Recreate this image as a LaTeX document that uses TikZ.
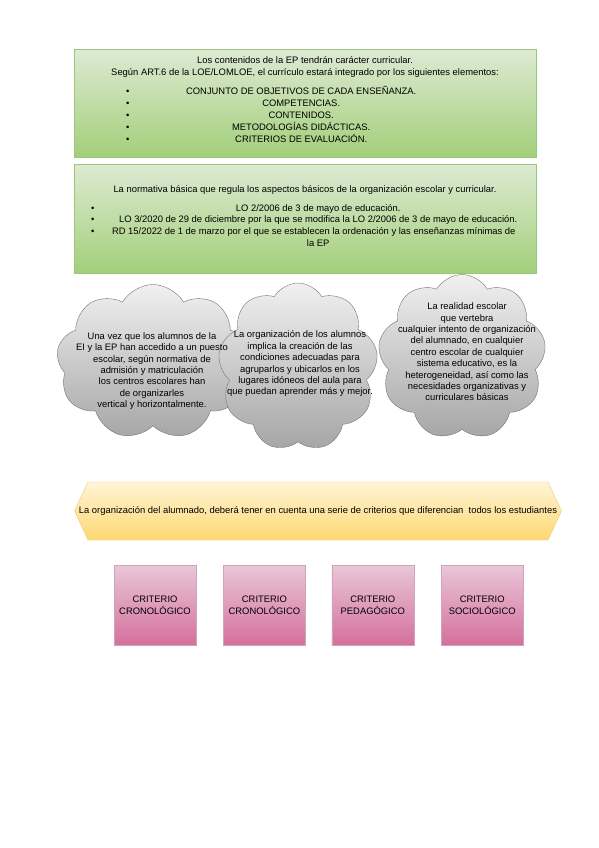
\documentclass[tikz,border=0pt]{standalone}
\usepackage{fontspec}
\setmainfont{Liberation Sans}
\usepackage{array}
\usetikzlibrary{positioning, shapes.symbols}
\definecolor{GreenTop}{HTML}{DDEAD3}
\definecolor{GreenBottom}{HTML}{A2CF79}
\definecolor{GreenLine}{HTML}{9CC77A}
\definecolor{GrayTop}{HTML}{F0F0F0}
\definecolor{GrayBottom}{HTML}{A6A6A6}
\definecolor{GrayLine}{HTML}{737373}
\definecolor{GoldTop}{HTML}{FFF4D6}
\definecolor{GoldBottom}{HTML}{FDD871}
\definecolor{GoldLine}{HTML}{F0CC70}
\definecolor{PinkTop}{HTML}{E9C6D8}
\definecolor{PinkBottom}{HTML}{D5709D}
\definecolor{PinkLine}{HTML}{CFA3B9}

\begin{document}
\begin{tikzpicture}[x=1pt, y=-1pt, font=\fontsize{9.4}{12}\selectfont,
    greenbox/.style={rectangle, draw=GreenLine, line width=1pt, top color=GreenTop, bottom color=GreenBottom, minimum width=462pt, anchor=north west},
    cloudbox/.style={cloud, cloud puffs=9, cloud puff arc=120, cloud ignores aspect, draw=GrayLine, top color=GrayTop, bottom color=GrayBottom, inner sep=0pt},
    cloudtext/.style={align=center, inner sep=0pt, font=\fontsize{9.4}{11.4}\selectfont},
    critbox/.style={rectangle, draw=PinkLine, top color=PinkTop, bottom color=PinkBottom, minimum width=82pt, minimum height=80pt, align=center}]
        \useasboundingbox (0,0) rectangle (599,848);

        % Curriculum box
        \node[greenbox, minimum height=108pt] (curr) at (74,49) {};
        \node[anchor=north, inner sep=0pt, align=center] (currhead) at (305,56) {Los contenidos de la EP tendrán carácter curricular.\\Según ART.6 de la LOE/LOMLOE, el currículo estará integrado por los siguientes elementos:};
        \node[anchor=north west, inner sep=0pt] (currlist) at (126,86) {%
            \begin{tabular}{@{}p{10pt}@{}>{\centering\arraybackslash}p{330pt}@{}}
            \textbullet & CONJUNTO DE OBJETIVOS DE CADA ENSEÑANZA.\\
            \textbullet & COMPETENCIAS.\\
            \textbullet & CONTENIDOS.\\
            \textbullet & METODOLOGÍAS DIDÁCTICAS.\\
            \textbullet & CRITERIOS DE EVALUACIÓN.
            \end{tabular}};

        % Normativa box
        \node[greenbox, minimum height=109pt] (norm) at (74,164) {};
        \node[anchor=north, inner sep=0pt, align=center] (normhead) at (305,185) {La normativa básica que regula los aspectos básicos de la organización escolar y curricular.};
        \node[anchor=north west, inner sep=0pt] (normlist) at (91,203) {%
            \renewcommand{\arraystretch}{0.96}%
            \begin{tabular}{@{}p{12pt}@{}>{\centering\arraybackslash}p{430pt}@{}}
            \textbullet & LO 2/2006 de 3 de mayo de educación.\\
            \textbullet & LO 3/2020 de 29 de diciembre por la que se modifica la LO 2/2006 de 3 de mayo de educación.\\
            \textbullet & RD 15/2022 de 1 de marzo por el que se establecen la ordenación y las enseñanzas mínimas de\newline la EP
            \end{tabular}};

        % Clouds
        \node[cloudbox, minimum width=193pt, minimum height=155pt] (cloudA) at (153,362) {};
        \node[cloudbox, minimum width=160pt, minimum height=168pt] (cloudB) at (298,367) {};
        \node[cloudbox, minimum width=168pt, minimum height=165pt] (cloudC) at (462,357) {};
        \node[cloudtext] (textA) at (152,371) {Una vez que los alumnos de la\\EI y la EP han accedido a un puesto\\escolar, según normativa de\\admisión y matriculación\\los centros escolares han\\de organizarles\\vertical y horizontalmente.};
        \node[cloudtext] (textB) at (300,364) {La organización de los alumnos\\implica la creación de las\\condiciones adecuadas para\\agruparlos y ubicarlos en los\\lugares idóneos del aula para\\que puedan aprender más y mejor.};
        \node[cloudtext] (textC) at (467,352) {La realidad escolar\\que vertebra\\cualquier intento de organización\\del alumnado, en cualquier\\centro escolar de cualquier\\sistema educativo, es la\\heterogeneidad, así como las\\necesidades organizativas y\\curriculares básicas};

        % Banner
        \node[signal, signal to=east and west, signal pointer angle=130, draw=GoldLine, top color=GoldTop, bottom color=GoldBottom, minimum width=487pt, minimum height=58pt, inner sep=0pt] (banner) at (318,511) {};
        \node[inner sep=0pt] (bannertext) at (318,511) {La organización del alumnado, deberá tener en cuenta una serie de criterios que diferencian\ \ todos los estudiantes};

        % Criteria
        \node[critbox] (critA) at (155,605) {CRITERIO\\CRONOLÓGICO};
        \node[critbox, right=27pt of critA] (critB) {CRITERIO\\CRONOLÓGICO};
        \node[critbox, right=26pt of critB] (critC) {CRITERIO\\PEDAGÓGICO};
        \node[critbox, right=27pt of critC] (critD) {CRITERIO\\SOCIOLÓGICO};
    \end{tikzpicture}
\end{document}
